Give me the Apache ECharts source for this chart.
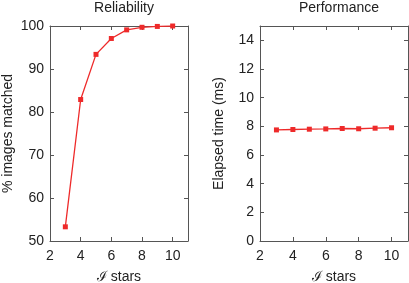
<!DOCTYPE html>
<html>
<head>
<meta charset="utf-8">
<script src="https://cdn.jsdelivr.net/npm/echarts@6/dist/echarts.min.js"></script>
<style>
html, body { margin: 0; padding: 0; background: #fff; }
#main { width: 409px; height: 283px; }
</style>
</head>
<body>
<div id="main"></div>
<script>
// stars count (x values)
var starCounts = [3, 4, 5, 6, 7, 8, 9, 10];
// reliability: % images matched
var reliability = [53.3, 82.9, 93.4, 97.1, 99.1, 99.7, 99.9, 100];
// performance: elapsed time (ms)
var elapsedMs = [7.75, 7.78, 7.8, 7.82, 7.85, 7.83, 7.87, 7.9];
var titles = ['Reliability', 'Performance'];
var yNames = ['% images matched', 'Elapsed time (ms)'];
var xName = '\u2110 stars';

var red = '#ee2a2a';
var ink = '#222';
var font = 'Liberation Sans';

function pairs(xs, ys) {
    var out = [];
    for (var i = 0; i < xs.length; i++) out.push([xs[i], ys[i]]);
    return out;
}

var chart = echarts.init(document.getElementById('main'));

var lineAx = { show: true, onZero: false, lineStyle: { color: '#555', width: 1 } };
var tickIn = { show: true, inside: true, length: 4, lineStyle: { color: '#555' } };
var lab = { color: ink, fontFamily: font, fontSize: 14 };

function xAxes(gi) {
    return [
        { gridIndex: gi, type: 'value', min: 2, max: 11, interval: 2, position: 'bottom',
          axisLine: lineAx, axisTick: tickIn, splitLine: { show: false },
          axisLabel: Object.assign({ margin: 8, formatter: function (v) { return v % 2 === 0 ? v : ''; } }, lab),
          name: xName, nameLocation: 'middle', nameGap: 29,
          nameTextStyle: { color: ink, fontFamily: font, fontSize: 14 } },
        { gridIndex: gi, type: 'value', min: 2, max: 11, interval: 2, position: 'top',
          axisLine: lineAx, axisTick: tickIn, axisLabel: { show: false }, splitLine: { show: false } }
    ];
}

function yAxes(gi, min, max, interval, nameGap) {
    return [
        { gridIndex: gi, type: 'value', min: min, max: max, interval: interval, position: 'left',
          axisLine: lineAx, axisTick: tickIn, splitLine: { show: false },
          axisLabel: Object.assign({ margin: 6, formatter: function (v) { return v % interval === 0 ? v : ''; } }, lab),
          name: yNames[gi], nameLocation: 'middle', nameGap: nameGap,
          nameTextStyle: { color: ink, fontFamily: font, fontSize: 14 } },
        { gridIndex: gi, type: 'value', min: min, max: max, interval: interval, position: 'right',
          axisLine: lineAx, axisTick: tickIn, axisLabel: { show: false }, splitLine: { show: false } }
    ];
}

function series(xi, yi, data) {
    return {
        type: 'line', xAxisIndex: xi, yAxisIndex: yi, data: data,
        symbol: 'rect', symbolSize: 5, showAllSymbol: true,
        lineStyle: { color: red, width: 1.3 }, itemStyle: { color: red },
        animation: false
    };
}

var option = {
    backgroundColor: '#fff',
    animation: false,
    title: [
        { text: titles[0], left: 119, top: -4, textAlign: 'center',
          textStyle: { color: ink, fontFamily: font, fontSize: 14, fontWeight: 'normal' } },
        { text: titles[1], left: 334, top: -4, textAlign: 'center',
          textStyle: { color: ink, fontFamily: font, fontSize: 14, fontWeight: 'normal' } }
    ],
    grid: [
        { left: 50, top: 26, width: 138, height: 215, outerBoundsMode: 'none' },
        { left: 260, top: 26, width: 148, height: 215, outerBoundsMode: 'none' }
    ],
    xAxis: xAxes(0).concat(xAxes(1)),
    yAxis: yAxes(0, 50, 100, 10, 35).concat(yAxes(1, 0, 15, 2, 34)),
    series: [
        series(0, 0, pairs(starCounts, reliability)),
        series(2, 2, pairs(starCounts, elapsedMs))
    ]
};

chart.setOption(option);
</script>
</body>
</html>
